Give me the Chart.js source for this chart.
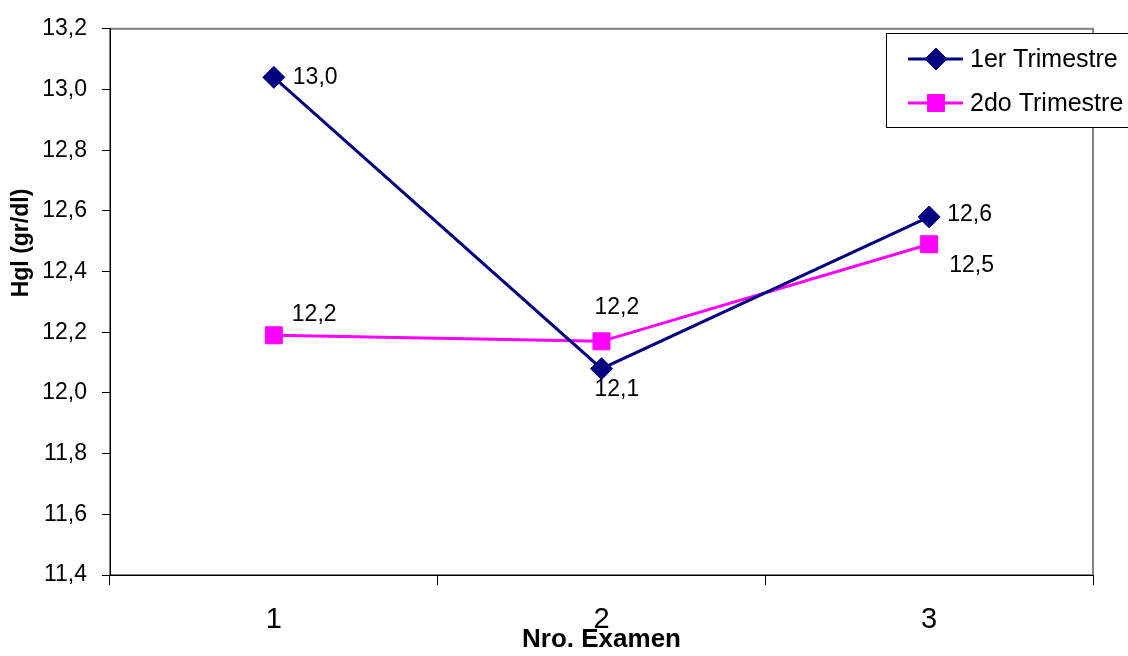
<!DOCTYPE html>
<html>
<head>
<meta charset="utf-8">
<script src="https://cdn.jsdelivr.net/npm/chart.js@4/dist/chart.umd.min.js"></script>
<style>
  html, body { margin: 0; padding: 0; background: #fff; }
  #wrap { width: 1128px; height: 656px; }
</style>
</head>
<body>
<div id="wrap"><canvas id="c" width="1128" height="656"></canvas></div>
<script>
// Hemoglobin by exam number, per trimester
const examenes = ['1', '2', '3'];
const trimestre1 = [13.04, 12.08, 12.58];
const trimestre2 = [12.19, 12.17, 12.49];
const seriesNames = ['1er Trimestre', '2do Trimestre'];
const yTitle = 'Hgl (gr/dl)';
const xTitle = 'Nro. Examen';
const yMin = 11.4, yMax = 13.2, yStep = 0.2;

const FONT = "'Liberation Sans', Arial, Helvetica, sans-serif";
Chart.defaults.font.family = FONT;
Chart.defaults.color = '#000';

const fmt = v => Number(v).toFixed(1).replace('.', ',');

// where each value label sits relative to its point
const labelOffsets = [
  [[19, 0], [-7, 21], [18, -2]],
  [[18, -21], [-7, -34], [20, 21]]
];

const decorations = {
  id: 'decorations',
  beforeDraw(chart) {
    const { ctx, chartArea: a } = chart;
    ctx.save();
    ctx.fillStyle = '#fff';
    ctx.fillRect(0, 0, chart.width, chart.height);
    ctx.strokeStyle = '#808080';
    ctx.lineWidth = 2;
    ctx.strokeRect(a.left, a.top, a.right - a.left, a.bottom - a.top);
    ctx.restore();
  },
  afterDatasetsDraw(chart) {
    const { ctx } = chart;
    ctx.save();
    // value labels
    ctx.fillStyle = '#000';
    ctx.font = '23px ' + FONT;
    ctx.textAlign = 'left';
    ctx.textBaseline = 'middle';
    chart.data.datasets.forEach((ds, i) => {
      chart.getDatasetMeta(i).data.forEach((pt, j) => {
        const [dx, dy] = labelOffsets[i][j];
        ctx.fillText(fmt(ds.data[j]), pt.x + dx, pt.y + dy);
      });
    });

    // legend box
    const lx = 886, ly = 33, lw = 250, lh = 94;
    ctx.fillStyle = '#fff';
    ctx.fillRect(lx, ly, lw, lh);
    ctx.strokeStyle = '#000';
    ctx.lineWidth = 1;
    ctx.strokeRect(lx + 0.5, ly + 0.5, lw, lh);
    const rows = [59, 103];
    chart.data.datasets.forEach((ds, i) => {
      const y = rows[i];
      ctx.strokeStyle = ds.borderColor;
      ctx.lineWidth = ds.borderWidth;
      ctx.beginPath();
      ctx.moveTo(908, y);
      ctx.lineTo(963, y);
      ctx.stroke();
      ctx.fillStyle = ds.backgroundColor;
      ctx.strokeStyle = ds.borderColor;
      ctx.lineWidth = 1;
      Chart.helpers.drawPoint(ctx, {
        pointStyle: ds.pointStyle, radius: ds.pointRadius, rotation: 0, borderWidth: 1
      }, 936, y);
      ctx.fillStyle = '#000';
      ctx.font = '25px ' + FONT;
      ctx.textAlign = 'left';
      ctx.textBaseline = 'middle';
      ctx.fillText(ds.label, 970, y + 1);
    });

    // y axis title
    ctx.translate(22, 243);
    ctx.rotate(-Math.PI / 2);
    ctx.fillStyle = '#000';
    ctx.font = 'bold 23px ' + FONT;
    ctx.textAlign = 'center';
    ctx.textBaseline = 'middle';
    ctx.fillText(yTitle, 0, 0);
    ctx.restore();
  }
};

new Chart(document.getElementById('c'), {
  type: 'line',
  data: {
    labels: examenes,
    datasets: [
      {
        label: seriesNames[0],
        data: trimestre1,
        borderColor: '#000080',
        backgroundColor: '#000080',
        borderWidth: 3,
        pointStyle: 'rectRot',
        pointRadius: 11,
        pointBorderWidth: 1,
        tension: 0
      },
      {
        label: seriesNames[1],
        data: trimestre2,
        borderColor: '#FF00FF',
        backgroundColor: '#FF00FF',
        borderWidth: 3,
        pointStyle: 'rect',
        pointRadius: 12,
        pointBorderWidth: 1,
        tension: 0
      }
    ]
  },
  options: {
    responsive: false,
    animation: false,
    devicePixelRatio: 1,
    layout: { padding: { top: 26, right: 35, bottom: 0, left: 0 } },
    plugins: {
      legend: { display: false },
      tooltip: { enabled: false }
    },
    scales: {
      x: {
        type: 'category',
        offset: true,
        grid: { display: true, offset: true, drawOnChartArea: false, drawTicks: true, tickLength: 10, color: '#000', lineWidth: 1 },
        border: { display: true, color: '#000', width: 1 },
        ticks: { font: { size: 29 }, color: '#000', padding: 18, maxRotation: 0 },
        title: { display: true, text: xTitle, font: { size: 26, weight: 'bold' }, color: '#000', padding: { top: 0, bottom: 1 } },
        afterFit(s) { s.height = 81; }
      },
      y: {
        min: yMin,
        max: yMax,
        grid: { display: true, drawOnChartArea: false, drawTicks: true, tickLength: 8, color: '#000', lineWidth: 1 },
        border: { display: true, color: '#000', width: 1 },
        ticks: { stepSize: yStep, font: { size: 23 }, color: '#000', padding: 15, callback: v => fmt(v) },
        afterFit(s) { s.width = 110; }
      }
    }
  },
  plugins: [decorations]
});
</script>
</body>
</html>
